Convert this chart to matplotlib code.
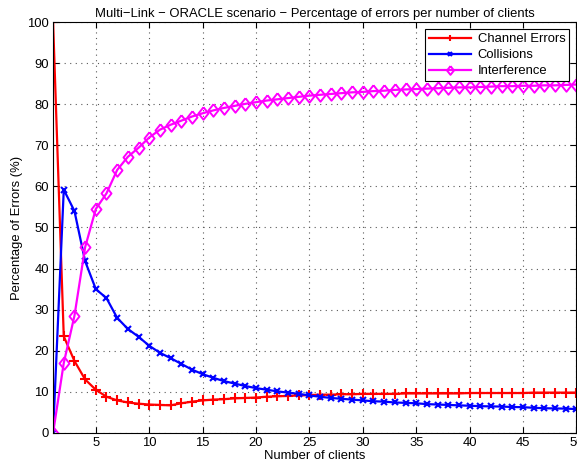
import numpy as np
import matplotlib.pyplot as plt

plt.rcParams['font.family'] = ['Liberation Sans', 'DejaVu Sans']

# === Data ===
clients = list(range(1, 51))

channel_errors = [100.0, 23.5, 17.5, 13.0, 10.5, 8.8, 7.9, 7.4, 7.1, 6.9,
                  6.8, 6.7, 7.2, 7.6, 7.9, 8.1, 8.2, 8.4, 8.5, 8.6,
                  8.8, 8.9, 9.0, 9.1, 9.2, 9.3, 9.3, 9.4, 9.4, 9.5,
                  9.5, 9.5, 9.5, 9.6, 9.6, 9.6, 9.6, 9.6, 9.6, 9.7,
                  9.7, 9.7, 9.7, 9.7, 9.7, 9.8, 9.8, 9.8, 9.8, 9.8]

collisions = [0.0, 59.2, 54.0, 41.8, 35.0, 32.8, 28.0, 25.3, 23.4, 21.2,
              19.5, 18.2, 16.8, 15.4, 14.3, 13.4, 12.6, 12.0, 11.4, 10.9,
              10.5, 10.1, 9.8, 9.5, 9.1, 8.8, 8.5, 8.3, 8.1, 7.9,
              7.7, 7.6, 7.4, 7.3, 7.2, 7.0, 6.9, 6.8, 6.7, 6.6,
              6.5, 6.45, 6.4, 6.3, 6.25, 6.1, 6.0, 5.95, 5.9, 5.8]

interference = [0.0, 17.0, 28.5, 45.2, 54.5, 58.3, 64.0, 67.2, 69.4, 71.9,
                73.8, 75.0, 76.0, 77.0, 77.8, 78.5, 79.1, 79.6, 80.1, 80.5,
                80.9, 81.2, 81.5, 81.8, 82.1, 82.3, 82.5, 82.7, 82.9, 83.0,
                83.2, 83.3, 83.5, 83.6, 83.7, 83.8, 83.9, 84.0, 84.1, 84.1,
                84.2, 84.3, 84.4, 84.4, 84.5, 84.5, 84.6, 84.6, 84.7, 84.8]

# diamond a bit taller than wide, like the matlab one
diamond = [(0, 1), (0.8, 0), (0, -1), (-0.8, 0), (0, 1)]

# === Figure ===
fig = plt.figure(figsize=(5.77, 4.70), dpi=100)
ax = fig.add_axes([0.092, 0.079, 0.907, 0.874])

ax.plot(clients, channel_errors, color='red', marker='+', markersize=7,
        markeredgewidth=1.5, linewidth=1.6, label='Channel Errors')
ax.plot(clients, collisions, color='blue', marker='x', markersize=5,
        markeredgewidth=1.5, linewidth=1.6, label='Collisions')
ax.plot(clients, interference, color='magenta', marker=diamond, markersize=9,
        markerfacecolor='none', markeredgewidth=1.4, linewidth=1.6,
        label='Interference')

ax.set_xlim(1, 50)
ax.set_ylim(0, 100)
ax.set_xticks(range(5, 51, 5))
ax.set_yticks(range(0, 101, 10))
ax.tick_params(direction='in', top=True, right=True, labelsize=9.4,
               length=4, pad=3)
ax.grid(True, linestyle=(0, (1, 4)), color='0.35', linewidth=0.8)

ax.set_xlabel('Number of clients', fontsize=9.4, labelpad=1)
ax.set_ylabel('Percentage of Errors (%)', fontsize=9.4, labelpad=3)
ax.set_title('Multi\u2212Link \u2212 ORACLE scenario \u2212 Percentage of errors per number of clients',
             fontsize=9.4, pad=4)

leg = ax.legend(loc='upper right', fontsize=9.4, fancybox=False, framealpha=1,
                edgecolor='black', borderaxespad=0.55, handlelength=3.2,
                markerscale=0.7, borderpad=0.3, labelspacing=0.3,
                handletextpad=0.5)
leg.get_frame().set_linewidth(0.8)

fig.savefig('out.png', dpi=100)
